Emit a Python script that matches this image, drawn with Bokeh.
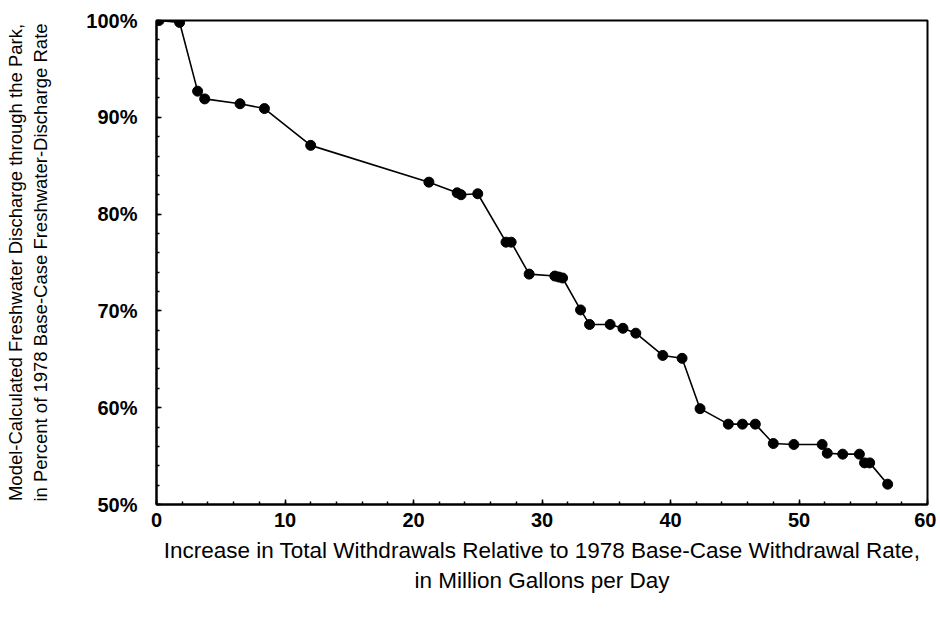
from bokeh.plotting import figure
from bokeh.models import SingleIntervalTicker, PrintfTickFormatter, Range1d
from bokeh.embed import file_html
from bokeh.resources import INLINE

# Data
withdrawal_increase = [0.2, 1.8, 3.2, 3.75, 6.5, 8.4, 12.0, 21.2, 23.4, 23.7, 25.0,
                       27.2, 27.6, 29.0, 31.0, 31.3, 31.6, 33.0, 33.7, 35.3, 36.3,
                       37.3, 39.4, 40.9, 42.3, 44.5, 45.6, 46.6, 48.0, 49.6, 51.8,
                       52.2, 53.4, 54.7, 55.1, 55.5, 56.9]
discharge_pct = [100.0, 99.8, 92.7, 91.9, 91.4, 90.9, 87.1, 83.3, 82.2, 82.0, 82.1,
                 77.1, 77.1, 73.8, 73.6, 73.5, 73.4, 70.1, 68.6, 68.6, 68.2,
                 67.7, 65.4, 65.1, 59.9, 58.3, 58.3, 58.3, 56.3, 56.2, 56.2,
                 55.3, 55.2, 55.2, 54.3, 54.3, 52.1]

x_title = "Increase in Total Withdrawals Relative to 1978 Base-Case Withdrawal Rate,\nin Million Gallons per Day"
y_title = "Model-Calculated Freshwater Discharge through the Park,\nin Percent of 1978 Base-Case Freshwater-Discharge Rate"

FONT = "Liberation Sans"

p = figure(width=936, height=616, output_backend="svg", toolbar_location=None,
           x_range=Range1d(0, 60), y_range=Range1d(50, 100),
           min_border_left=156, min_border_right=9, min_border_top=20,
           min_border_bottom=112)

p.line(withdrawal_increase, discharge_pct, line_color="black", line_width=1.6)
p.scatter(withdrawal_increase, discharge_pct, size=10, fill_color="black",
          line_color="black")

p.xgrid.visible = False
p.ygrid.visible = False
p.outline_line_color = "black"
p.outline_line_width = 2
p.background_fill_color = "white"
p.border_fill_color = "white"

xa = p.xaxis[0]
xa.ticker = SingleIntervalTicker(interval=10, num_minor_ticks=5)
ya = p.yaxis[0]
ya.ticker = SingleIntervalTicker(interval=10, num_minor_ticks=5)
ya.formatter = PrintfTickFormatter(format="%d%%")

for ax in (xa, ya):
    ax.axis_line_color = "black"
    ax.axis_line_width = 2
    ax.major_tick_in = 5
    ax.major_tick_out = 0
    ax.minor_tick_in = 3
    ax.minor_tick_out = 0
    ax.major_tick_line_color = "black"
    ax.minor_tick_line_color = "black"
    ax.major_tick_line_width = 1.5
    ax.minor_tick_line_width = 1.5
    ax.major_label_text_font = FONT
    ax.major_label_text_font_style = "bold"
    ax.major_label_text_font_size = "20px"
    ax.major_label_text_color = "black"
    ax.axis_label_text_font = FONT
    ax.axis_label_text_font_style = "normal"
    ax.axis_label_text_color = "black"

xa.axis_label = x_title
xa.axis_label_text_font_size = "22.5px"
xa.major_label_standoff = 8
xa.axis_label_standoff = 8
ya.axis_label = y_title
ya.axis_label_text_font_size = "18.5px"
ya.major_label_standoff = 19
ya.axis_label_standoff = 32

open("out.html", "w").write(file_html(p, INLINE))
